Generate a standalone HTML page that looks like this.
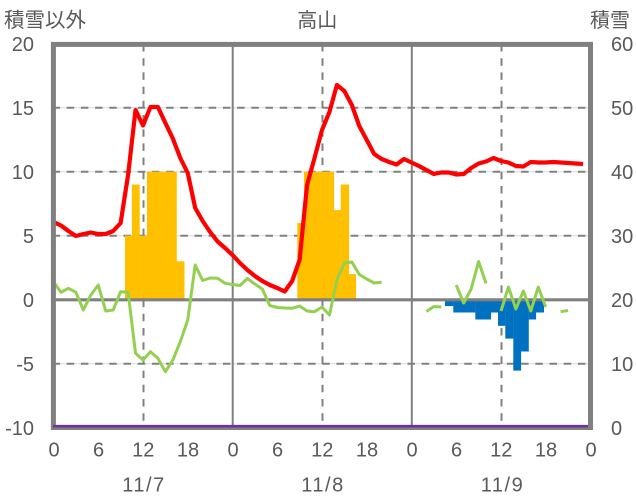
<!DOCTYPE html>
<html><head><meta charset="utf-8"><style>
html,body{margin:0;padding:0;background:#fff;}
svg{display:block;}
text{font-family:"Liberation Sans","Noto Sans CJK JP",sans-serif;fill:#595959;}
</style></head><body>
<svg width="636" height="501" viewBox="0 0 636 501" xmlns="http://www.w3.org/2000/svg">
<rect width="636" height="501" fill="#fff"/>
<!-- horizontal gridlines -->
<g stroke="#D9D9D9" stroke-width="1">
<line x1="55" y1="107.7" x2="589" y2="107.7"/>
<line x1="55" y1="171.7" x2="589" y2="171.7"/>
<line x1="55" y1="235.7" x2="589" y2="235.7"/>
<line x1="55" y1="363.7" x2="589" y2="363.7"/>
</g>
<g stroke="#808080" stroke-width="2" stroke-dasharray="7.5 6.7">
<line x1="52.5" y1="107.7" x2="589" y2="107.7"/>
<line x1="52.5" y1="171.7" x2="589" y2="171.7"/>
<line x1="52.5" y1="235.7" x2="589" y2="235.7"/>
<line x1="52.5" y1="363.7" x2="589" y2="363.7"/>
<line x1="143.5" y1="44" x2="143.5" y2="425"/>
<line x1="322.5" y1="44" x2="322.5" y2="425"/>
<line x1="501.5" y1="44" x2="501.5" y2="425"/>
</g>
<g stroke="#808080" stroke-width="2">
<line x1="232.7" y1="46" x2="232.7" y2="426"/>
<line x1="411.8" y1="46" x2="411.8" y2="426"/>
</g>
<!-- orange bars -->
<g fill="#FFC000">
<rect x="125" y="235.7" width="7" height="64.3"/>
<rect x="131.9" y="184.5" width="7.8" height="115.5"/>
<rect x="139.6" y="235.7" width="7.4" height="64.3"/>
<rect x="146.9" y="171.7" width="29.9" height="128.3"/>
<rect x="176.7" y="261.3" width="7.8" height="38.7"/>
<rect x="297.3" y="222.9" width="6.8" height="77.1"/>
<rect x="304" y="171.7" width="30.1" height="128.3"/>
<rect x="334" y="210.1" width="6.8" height="89.9"/>
<rect x="340.7" y="184.5" width="8.4" height="115.5"/>
<rect x="349" y="274.1" width="7" height="25.9"/>
</g>
<!-- blue bars -->
<g fill="#0070C0">
<rect x="445" y="300" width="8.4" height="6.1"/>
<rect x="453.3" y="300" width="22.1" height="12.5"/>
<rect x="475.3" y="300" width="15.8" height="19.5"/>
<rect x="491" y="300" width="7.1" height="12.5"/>
<rect x="498" y="300" width="7.4" height="25.8"/>
<rect x="505.3" y="300" width="8.1" height="38.6"/>
<rect x="513.3" y="300" width="7.8" height="70.6"/>
<rect x="521" y="300" width="7.8" height="51.5"/>
<rect x="528.7" y="300" width="7.4" height="19.5"/>
<rect x="536" y="300" width="8" height="12.5"/>
</g>
<!-- zero line -->
<line x1="55" y1="299.8" x2="589" y2="299.8" stroke="#808080" stroke-width="3.2"/>
<!-- green line -->
<g fill="none" stroke="#92D050" stroke-width="3" stroke-linejoin="round">
<polyline points="53.5,281.7 60.96,292.3 68.42,288.3 75.87,292.3 83.33,310 90.79,295 98.25,285 105.71,311 113.16,310 120.62,291.7 128.08,292.3 135.54,353.3 143,360 150.45,351.7 157.91,358.3 165.37,371.7 172.83,360 180.29,341.7 187.74,320 195.2,265 202.66,280.5 210.12,278 217.58,278.3 225.03,283.3 232.49,284.5 239.95,285.5 247.41,278.5 254.87,284 262.32,289 269.78,305.5 277.24,307.5 284.7,308 292.16,308.3 299.61,306 307.07,311 314.53,311.7 321.99,307 329.45,315 336.9,280 344.36,263 351.82,262 359.28,274.5 366.74,279 374.19,283 381.65,282.3"/>
<polyline points="426.4,311.5 433.86,306.5 441.32,307"/>
<polyline points="456.23,285 463.69,303 471.15,289 478.61,261.5 486.06,283.5"/>
<polyline points="500.98,311 508.44,287 515.9,309 523.35,291 530.81,311 538.27,287 545.73,307"/>
<polyline points="560.64,311.7 568.1,310.5"/>
</g>
<!-- red line -->
<polyline fill="none" stroke="#FF0000" stroke-width="4.2" stroke-linejoin="round" points="53.5,222 60.96,225.5 68.42,231 75.87,236 83.33,234 90.79,232.5 98.25,234 105.71,234 113.16,231 120.62,223 128.08,175 135.54,110 143,125.5 150.45,107 157.91,107 165.37,123 172.83,138.5 180.29,158 187.74,173 195.2,208 202.66,221 210.12,232 217.58,241.5 225.03,248 232.49,255 239.95,263 247.41,270 254.87,276 262.32,281 269.78,285 277.24,288 284.7,291.5 292.16,281 299.61,260 307.07,185 314.53,158 321.99,130 329.45,112 336.9,85 344.36,91 351.82,105 359.28,126 366.74,140 374.19,154 381.65,159 389.11,162 396.57,164.5 404.03,159 411.48,162.5 418.94,166 426.4,170 433.86,174 441.32,172.5 448.77,172.5 456.23,174.5 463.69,174 471.15,168 478.61,163.5 486.06,161.5 493.52,158 500.98,161 508.44,162.5 515.9,166 523.35,166.5 530.81,162 538.27,162.5 545.73,162.5 553.19,162 560.64,162.5 568.1,163 575.56,163.5 583.02,164"/>
<!-- frame -->
<rect x="53.4" y="44.4" width="537.1" height="383.1" fill="none" stroke="#808080" stroke-width="5"/>
<!-- purple line -->
<line x1="53" y1="426.2" x2="588" y2="426.2" stroke="#7030A0" stroke-width="2.6"/>
<!-- titles -->
<text x="4" y="27" font-size="20.5">積雪以外</text>
<text x="317.3" y="27" font-size="20" text-anchor="middle">高山</text>
<text x="590" y="27" font-size="20">積雪</text>
<!-- left ticks -->
<g font-size="20" text-anchor="end">
<text x="34" y="50.9">20</text>
<text x="34" y="114.9">15</text>
<text x="34" y="178.9">10</text>
<text x="34" y="242.9">5</text>
<text x="34" y="306.9">0</text>
<text x="34" y="370.9">-5</text>
<text x="34" y="434.9">-10</text>
</g>
<!-- right ticks -->
<g font-size="20" text-anchor="start">
<text x="611" y="50.9">60</text>
<text x="611" y="114.9">50</text>
<text x="611" y="178.9">40</text>
<text x="611" y="242.9">30</text>
<text x="611" y="306.9">20</text>
<text x="611" y="370.9">10</text>
<text x="611" y="434.9">0</text>
</g>
<!-- x ticks -->
<g font-size="20" text-anchor="middle">
<text x="54" y="456.5">0</text>
<text x="98.5" y="456.5">6</text>
<text x="143.3" y="456.5">12</text>
<text x="188" y="456.5">18</text>
<text x="233" y="456.5">0</text>
<text x="277.5" y="456.5">6</text>
<text x="322.3" y="456.5">12</text>
<text x="367" y="456.5">18</text>
<text x="412" y="456.5">0</text>
<text x="456.5" y="456.5">6</text>
<text x="501.3" y="456.5">12</text>
<text x="546" y="456.5">18</text>
<text x="591" y="456.5">0</text>
</g>
<g font-size="20" text-anchor="middle" letter-spacing="1.5">
<text x="144" y="491.5">11/7</text>
<text x="323" y="491.5">11/8</text>
<text x="502.5" y="491.5">11/9</text>
</g>
</svg>
</body></html>
